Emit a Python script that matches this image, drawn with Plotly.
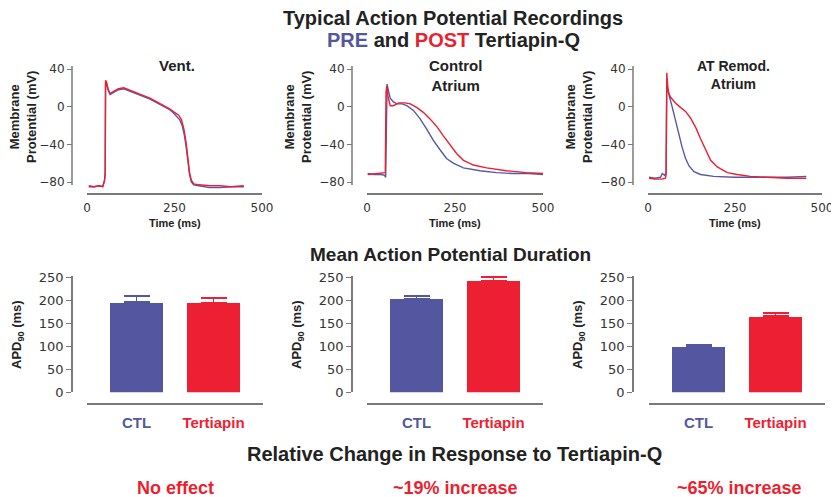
import plotly.graph_objects as go

W, H = 839, 497
OFF = 8  # the page places the figure 8 px in from the top-left corner

# ---------------- data ----------------
# Action potential recordings (time in ms, membrane potential in mV)
vent_pre_t = [5, 20, 35, 45, 50, 52, 53, 56, 60, 66, 75, 90, 105, 120, 140, 160, 180, 200, 220, 235, 245, 255, 265, 272, 278, 283, 288, 293, 298, 305, 320, 350, 380, 410, 448]
vent_pre_v = [-85, -85, -84, -85, -79, -72, 25, 24, 18, 13, 15, 18, 19, 17, 14, 11, 8, 4, 0, -3, -6, -10, -14, -20, -30, -42, -58, -72, -80, -83, -84, -86, -86, -85, -85]
vent_post_t = [5, 20, 35, 45, 50, 52, 53, 56, 60, 66, 75, 90, 105, 120, 140, 160, 180, 200, 220, 235, 250, 262, 270, 277, 283, 288, 293, 298, 305, 320, 350, 380, 410, 448]
vent_post_v = [-84, -85, -84, -85, -78, -70, 28, 26, 19, 14, 16, 19, 20, 18, 15, 12, 9, 5, 1, -2, -6, -9, -14, -24, -38, -55, -70, -78, -82, -83, -84, -84, -85, -84]

ctrl_pre_t = [2, 20, 40, 50, 53, 55, 57, 62, 66, 75, 85, 100, 113, 132, 151, 170, 189, 208, 226, 245, 274, 321, 368, 415, 460, 500]
ctrl_pre_v = [-71, -72, -72, -73, -75, 10, 24, 15, 9, 5, 3, 3, 1, -4, -13, -24, -36, -46, -55, -60, -65, -68, -70, -71, -71, -72]
ctrl_post_t = [2, 20, 40, 50, 52, 54, 56, 60, 66, 75, 90, 108, 123, 142, 160, 179, 198, 217, 236, 255, 274, 302, 340, 396, 453, 500]
ctrl_post_v = [-72, -71, -70, -70, -70, 15, 22, 10, 1, 1, 4, 4, 3, -1, -6, -13, -21, -31, -41, -50, -57, -62, -65, -68, -70, -71]

remod_pre_t = [3, 20, 36, 41, 48, 52, 54, 60, 70, 79, 89, 98, 108, 118, 132, 151, 189, 247, 323, 400, 455]
remod_pre_v = [-75, -76, -75, -71, -73, -70, 24, 13, -1, -15, -29, -43, -55, -63, -69, -72, -74, -75, -75, -75, -74]
remod_post_t = [3, 20, 40, 50, 52, 54, 57, 60, 65, 79, 94, 108, 122, 137, 151, 165, 180, 199, 228, 256, 294, 342, 400, 455]
remod_post_v = [-76, -77, -77, -76, -73, 36, 20, 14, 10, 4, -1, -5, -12, -22, -34, -46, -57, -64, -70, -72, -74, -75, -76, -76]

# Mean APD90 (ms) with upper error
bar_categories = ["CTL", "Tertiapin"]
vent_apd = [197, 195]
vent_err = [13, 10]
ctrl_apd = [204, 244]
ctrl_err = [6, 7]
remod_apd = [101, 166]
remod_err = [3, 7]

mv_ticks = [40, 0, -40, -80]
time_ticks = [0, 250, 500]
apd_ticks = [0, 50, 100, 150, 200, 250]

panel_titles = ["Vent.", "Control<br>Atrium", "AT Remod.<br>Atrium"]
change_labels = ["No effect", "~19% increase", "~65% increase"]

# ---------------- styling ----------------
BLUE = "#5558a6"
RED = "#ec1f30"
BAR_BLUE = "#5457a0"
BAR_RED = "#ed1f33"
TXT = "#222222"
AX = "#7a7a7a"
FONT = "Liberation Sans, Arial, Helvetica, sans-serif"
TICKFONT = "DejaVu Sans, Liberation Sans, sans-serif"


def px(x):
    return (x - OFF) / W


def py(y):
    return 1 - (y - OFF) / H


fig = go.Figure()

# top panel geometry (pixels)
top_yaxis_x = [72, 352, 633]
top_ytitle_x = [23, 298, 579]
top_xdom = [(87, 262), (367, 543), (648, 822)]
top_title_x = [177, 455, 733]
top_title_size = [15, 15, 14]
# y mapping: 40 mV -> 69 px, -80 mV -> 182 px
mv_per_px = 120 / (182 - 69)
ydom_top = (60, 192)
yr_top = [40 - (ydom_top[1] - 69) * mv_per_px, 40 - (ydom_top[0] - 69) * mv_per_px]

traces = [
    (vent_pre_t, vent_pre_v, vent_post_t, vent_post_v),
    (ctrl_pre_t, ctrl_pre_v, ctrl_post_t, ctrl_post_v),
    (remod_pre_t, remod_pre_v, remod_post_t, remod_post_v),
]

annotations = []
shapes = []

for i in range(3):
    n = i + 1
    xa = "x" if n == 1 else f"x{n}"
    ya = "y" if n == 1 else f"y{n}"
    pre_t, pre_v, post_t, post_v = traces[i]
    fig.add_trace(go.Scatter(x=pre_t, y=pre_v, mode="lines", xaxis=xa, yaxis=ya,
                             line=dict(color=BLUE, width=1.4), showlegend=False))
    fig.add_trace(go.Scatter(x=post_t, y=post_v, mode="lines", xaxis=xa, yaxis=ya,
                             line=dict(color=RED, width=1.4), showlegend=False))
    x0, x1 = top_xdom[i]
    fig.layout[f"xaxis{'' if n == 1 else n}"] = dict(
        domain=[px(x0), px(x1)], range=[0, 500], anchor="free", position=py(194),
        automargin=False,
        showline=True, linecolor=AX, linewidth=1.5, showgrid=False, zeroline=False,
        tickvals=time_ticks, ticks="outside", ticklen=3, tickcolor="rgba(0,0,0,0)",
        tickfont=dict(size=12, color="#333", family=TICKFONT),
    )
    fig.layout[f"yaxis{'' if n == 1 else n}"] = dict(
        domain=[py(ydom_top[1]), py(ydom_top[0])], range=yr_top, anchor="free",
        position=px(top_yaxis_x[i]), automargin=False,
        showline=False, showgrid=False, zeroline=False,
        tickvals=mv_ticks, ticks="outside", ticklen=5, tickcolor=AX, tickwidth=1.2,
        tickfont=dict(size=12, color="#333", family=TICKFONT),
    )
    shapes.append(dict(type="line", xref="paper", yref=ya, x0=px(top_yaxis_x[i]), x1=px(top_yaxis_x[i]),
                       y0=-83.3, y1=43.2, line=dict(color=AX, width=1.5)))
    annotations.append(dict(text=f"<b>{panel_titles[i]}</b>", x=px(top_title_x[i]), y=py(75.5 if i else 66),
                            font=dict(size=top_title_size[i], color=TXT, family=FONT)))
    annotations.append(dict(text="<b>Time (ms)</b>", x=px((x0 + x1) / 2), y=py(223),
                            font=dict(size=11, color=TXT, family=FONT)))
    annotations.append(dict(text="<b>Membrane<br>Protential (mV)</b>", x=px(top_ytitle_x[i]), y=py(117),
                            textangle=-90, font=dict(size=13, color=TXT, family=FONT)))

# bar panels
bar_yaxis_x = [72, 352, 633]
bar_xdom = [(87, 263), (367, 543), (649, 825)]
bar_data = [(vent_apd, vent_err), (ctrl_apd, ctrl_err), (remod_apd, remod_err)]
ms_per_px = 250 / (392.3 - 277.7)
ydom_bar = (275.5, 392.3)
yr_bar = [0, (ydom_bar[1] - ydom_bar[0]) * ms_per_px]

for i in range(3):
    n = i + 4
    xa = f"x{n}"
    ya = f"y{n}"
    vals, errs = bar_data[i]
    for j in range(2):
        col = BAR_BLUE if j == 0 else BAR_RED
        fig.add_trace(go.Bar(
            x=[j], y=[vals[j]], xaxis=xa, yaxis=ya, width=0.69,
            marker=dict(color=col, line=dict(width=0)), showlegend=False,
            error_y=dict(type="data", symmetric=False, array=[errs[j]], arrayminus=[0],
                         color=col, thickness=1.8, width=13),
        ))
    x0, x1 = bar_xdom[i]
    fig.layout[f"xaxis{n}"] = dict(
        domain=[px(x0), px(x1)], range=[-0.643, 1.643], anchor="free", position=py(404),
        automargin=False,
        showline=True, linecolor=AX, linewidth=1.5, showgrid=False, zeroline=False,
        tickvals=[0, 1],
        ticktext=[f"<span style='color:{BAR_BLUE}'><b>{bar_categories[0]}</b></span>",
                  f"<span style='color:{BAR_RED}'><b>{bar_categories[1]}</b></span>"],
        ticks="outside", ticklen=5, tickcolor="rgba(0,0,0,0)",
        tickfont=dict(size=15, family=FONT),
    )
    fig.layout[f"yaxis{n}"] = dict(
        domain=[py(ydom_bar[1]), py(ydom_bar[0])], range=yr_bar, anchor="free",
        position=px(bar_yaxis_x[i]), automargin=False,
        showline=True, linecolor=AX, linewidth=1.5,
        showgrid=False, zeroline=False,
        tickvals=apd_ticks, ticks="outside", ticklen=5, tickcolor=AX, tickwidth=1.2,
        tickfont=dict(size=13, color="#333", family=TICKFONT),
    )
    annotations.append(dict(text="<b>APD<sub>90</sub> (ms)</b>", x=px(bar_yaxis_x[i] - 55), y=py(335),
                            textangle=-90, font=dict(size=13, color=TXT, family=FONT)))

# headings
annotations += [
    dict(text="<b>Typical Action Potential Recordings</b>", x=px(453), y=py(18),
         font=dict(size=20, color=TXT, family=FONT)),
    dict(text=f"<b><span style='color:{BAR_BLUE}'>PRE</span> and <span style='color:{RED}'>POST</span> Tertiapin-Q</b>",
         x=px(453), y=py(40), font=dict(size=20, color=TXT, family=FONT)),
    dict(text="<b>Mean Action Potential Duration</b>", x=px(450), y=py(254),
         font=dict(size=19, color=TXT, family=FONT)),
    dict(text="<b>Relative Change in Response to Tertiapin-Q</b>", x=px(454), y=py(454),
         font=dict(size=20, color=TXT, family=FONT)),
]
for lbl, cx in zip(change_labels, [175, 455, 739]):
    annotations.append(dict(text=f"<b>{lbl}</b>", x=px(cx), y=py(488),
                            font=dict(size=18, color=RED, family=FONT)))

for a in annotations:
    a["xref"] = "paper"
    a["yref"] = "paper"
    a["showarrow"] = False
    a["xanchor"] = "center"
    a["yanchor"] = "middle"

fig.update_layout(
    template="none",
    width=W, height=H, margin=dict(l=0, r=0, t=0, b=0, pad=0),
    paper_bgcolor="white", plot_bgcolor="white",
    annotations=annotations, shapes=shapes, bargap=0,
    font=dict(family=FONT),
)

fig.write_html("out.html")
